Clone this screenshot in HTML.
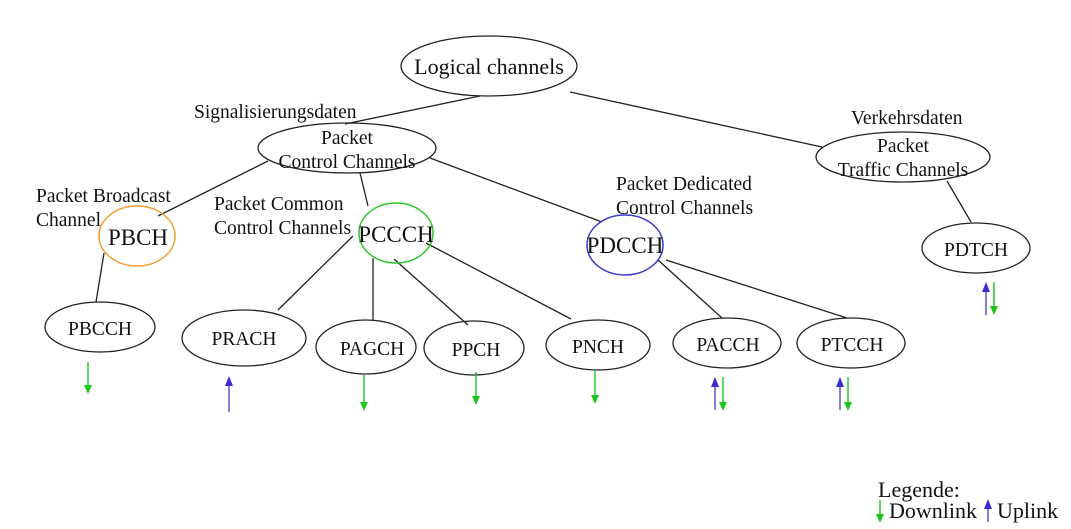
<!DOCTYPE html>
<html><head><meta charset="utf-8"><style>
html,body{margin:0;padding:0;background:#fff;}
svg{display:block;}
text{font-family:"Liberation Serif",serif;fill:#111;}
</style></head><body>
<svg width="1071" height="529" viewBox="0 0 1071 529" xmlns="http://www.w3.org/2000/svg">
<g stroke="#222" stroke-width="1.3" fill="none">
<line x1="480" y1="96" x2="345" y2="124"/>
<line x1="570" y1="92" x2="822" y2="147"/>
<line x1="268" y1="161" x2="158" y2="216"/>
<line x1="360" y1="173" x2="368" y2="206"/>
<line x1="430" y1="158" x2="602" y2="222"/>
<line x1="104" y1="253" x2="96" y2="302"/>
<line x1="353" y1="236" x2="278" y2="310"/>
<line x1="373" y1="258" x2="373" y2="320"/>
<line x1="394" y1="259" x2="468" y2="325"/>
<line x1="426" y1="243" x2="571" y2="319"/>
<line x1="658" y1="260" x2="722" y2="318"/>
<line x1="666" y1="260" x2="847" y2="318"/>
<line x1="947" y1="181" x2="971" y2="222"/>
<ellipse cx="489" cy="66" rx="88" ry="30"/>
<ellipse cx="347" cy="148" rx="89" ry="25"/>
<ellipse cx="903" cy="157" rx="87" ry="25"/>
<ellipse cx="976" cy="248" rx="54" ry="25"/>
<ellipse cx="100" cy="327" rx="55" ry="25"/>
<ellipse cx="244" cy="338" rx="62" ry="28"/>
<ellipse cx="366" cy="347" rx="50" ry="27"/>
<ellipse cx="474" cy="348" rx="50" ry="27"/>
<ellipse cx="598" cy="345" rx="52" ry="25"/>
<ellipse cx="727" cy="343" rx="54" ry="25"/>
<ellipse cx="851" cy="343" rx="54" ry="25"/>
</g>
<ellipse cx="137" cy="236" rx="38" ry="30" fill="none" stroke="#f0a030" stroke-width="1.5"/>
<ellipse cx="396" cy="233" rx="37" ry="30" fill="none" stroke="#2ec42e" stroke-width="1.5"/>
<ellipse cx="625" cy="245" rx="38" ry="30" fill="none" stroke="#3a3acc" stroke-width="1.5"/>

<g text-anchor="middle">
<text x="489" y="74" font-size="22">Logical channels</text>
<text x="347" y="144" font-size="19.5">Packet</text>
<text x="347" y="168" font-size="19.5">Control Channels</text>
<text x="903" y="152" font-size="19.5">Packet</text>
<text x="903" y="176" font-size="19.5">Traffic Channels</text>
<text x="138" y="245" font-size="23">PBCH</text>
<text x="396" y="242" font-size="23">PCCCH</text>
<text x="625" y="253" font-size="23">PDCCH</text>
<text x="976" y="256" font-size="19.5">PDTCH</text>
<text x="100" y="335" font-size="19.5">PBCCH</text>
<text x="244" y="345" font-size="19.5">PRACH</text>
<text x="372" y="355" font-size="19.5">PAGCH</text>
<text x="476" y="356" font-size="19.5">PPCH</text>
<text x="598" y="353" font-size="19.5">PNCH</text>
<text x="728" y="351" font-size="19.5">PACCH</text>
<text x="852" y="351" font-size="19.5">PTCCH</text>
</g>
<g font-size="19.5">
<text x="194" y="118">Signalisierungsdaten</text>
<text x="851" y="124">Verkehrsdaten</text>
<text x="36" y="202">Packet Broadcast</text>
<text x="36" y="226">Channel</text>
<text x="214" y="210">Packet Common</text>
<text x="214" y="234">Control Channels</text>
<text x="616" y="190">Packet Dedicated</text>
<text x="616" y="214">Control Channels</text>
<text x="878" y="497" font-size="22">Legende:</text>
<text x="889" y="518" font-size="22">Downlink</text>
<text x="997" y="518" font-size="22">Uplink</text>
</g>

<g stroke-width="1.4">
<g stroke="#1ec41e" fill="#1ec41e">
<line x1="88" y1="362" x2="88" y2="386"/><path d="M84,385 L92,385 L88,394 Z" stroke="none"/>
<line x1="364" y1="375" x2="364" y2="403"/><path d="M360,402 L368,402 L364,411 Z" stroke="none"/>
<line x1="476" y1="372" x2="476" y2="397"/><path d="M472,396 L480,396 L476,405 Z" stroke="none"/>
<line x1="595" y1="370" x2="595" y2="396"/><path d="M591,395 L599,395 L595,404 Z" stroke="none"/>
<line x1="723" y1="377" x2="723" y2="403"/><path d="M719,402 L727,402 L723,411 Z" stroke="none"/>
<line x1="848" y1="377" x2="848" y2="403"/><path d="M844,402 L852,402 L848,411 Z" stroke="none"/>
<line x1="994" y1="282" x2="994" y2="307"/><path d="M990,306 L998,306 L994,315 Z" stroke="none"/>
<line x1="880" y1="500" x2="880" y2="515"/><path d="M876,514 L884,514 L880,523 Z" stroke="none"/>
</g>
<g stroke="#5548cc" fill="#3a2ed0">
<line x1="229" y1="385" x2="229" y2="412"/><path d="M225,386 L233,386 L229,376 Z" stroke="none"/>
<line x1="715" y1="386" x2="715" y2="410"/><path d="M711,387 L719,387 L715,377 Z" stroke="none"/>
<line x1="840" y1="386" x2="840" y2="410"/><path d="M836,387 L844,387 L840,377 Z" stroke="none"/>
<line x1="986" y1="291" x2="986" y2="315"/><path d="M982,292 L990,292 L986,282 Z" stroke="none"/>
<line x1="988" y1="508" x2="988" y2="522"/><path d="M984,509 L992,509 L988,499 Z" stroke="none"/>
</g>
</g>
</svg>
</body></html>
